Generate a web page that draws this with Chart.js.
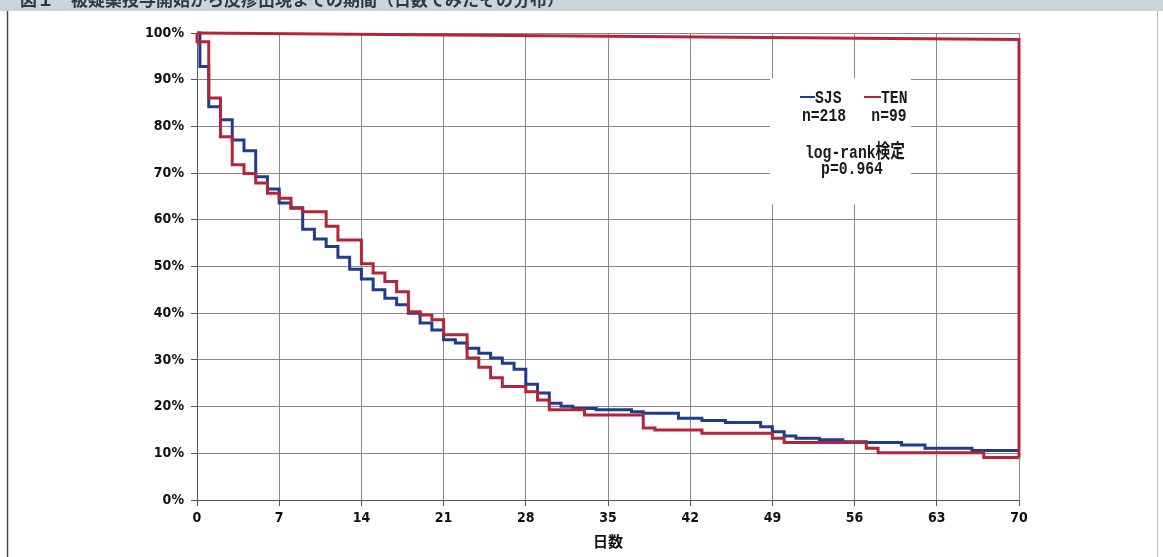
<!DOCTYPE html>
<html lang="ja">
<head>
<meta charset="utf-8">
<title>SJS / TEN 日数</title>
<script src="https://cdn.jsdelivr.net/npm/chart.js@4.4.1/dist/chart.umd.min.js"></script>
<style>
  html, body { margin: 0; padding: 0; background: #ffffff; }
  #wrap { width: 1163px; height: 557px; }
</style>
</head>
<body>
<div id="wrap"><canvas id="km" width="1163" height="557"></canvas></div>
<script>
// Kaplan–Meier style step curves (day, remaining %)
const sjsDays = [0, 0.25, 1, 2, 3, 4, 5, 6, 7, 8, 9, 10, 11, 12, 13, 14, 15, 16, 17, 18, 19, 20, 21, 22, 23, 24, 25, 26, 27, 28, 29, 30, 31, 32, 34, 37, 38, 41, 43, 45, 48, 49, 50, 51, 53, 55, 57, 60, 62, 66, 70];
const sjsPct  = [100, 92.8, 84.2, 81.4, 77.1, 74.8, 69.2, 66.6, 63.6, 62.6, 58.0, 55.9, 54.3, 52.0, 49.4, 47.3, 45.0, 43.2, 41.8, 40.0, 37.9, 36.4, 34.3, 33.6, 32.5, 31.4, 30.4, 29.3, 28.0, 24.8, 22.9, 20.7, 20.1, 19.6, 19.3, 18.9, 18.6, 17.5, 17.0, 16.6, 15.7, 14.6, 13.7, 13.2, 12.9, 12.5, 12.3, 11.8, 11.1, 10.6, 10.6];

const tenDays = [0, 0, 1, 2, 3, 4, 5, 6, 7, 8, 9, 11, 12, 14, 15, 16, 17, 18, 19, 20, 21, 23, 24, 25, 26, 28, 29, 30, 33, 38, 39, 43, 49, 50, 57, 58, 67, 70];
const tenPct  = [100, 98.1, 86.1, 77.8, 71.8, 69.9, 67.9, 65.7, 64.6, 62.5, 61.7, 58.6, 55.7, 50.6, 48.6, 46.8, 44.6, 40.3, 39.6, 38.6, 35.4, 30.4, 28.4, 26.2, 24.3, 23.2, 21.4, 19.3, 18.2, 15.4, 15.0, 14.3, 13.2, 12.3, 11.1, 10.1, 9.1, 9.1];

// red outline that closes the TEN series along the top and right edge
const tenEdgeDays = [0, 70, 70];
const tenEdgePct  = [100, 98.6, 9.1];

// axis ticks
const dayTicks = [0, 7, 14, 21, 28, 35, 42, 49, 56, 63, 70];
const pctTicks = [0, 10, 20, 30, 40, 50, 60, 70, 80, 90, 100];

// legend / annotation text
const groupNames = ['SJS', 'TEN'];
const groupN = ['n=218', 'n=99'];
const testLines = ['log-rank検定', 'p=0.964'];
const figureTitle = '図１　被疑薬投与開始から皮疹出現までの期間（日数でみたその分布）';

const BLUE = '#1f3c8e';
const RED = '#b5243a';
const GRID = '#8a8a8a';
const NARROW = '"Liberation Sans Narrow", "Arial Narrow", "DejaVu Sans Condensed", sans-serif';
const MONO = '"Liberation Mono", "DejaVu Sans Mono", "Noto Sans CJK JP", monospace';

const toPoints = (xs, ys) => xs.map((x, i) => ({ x, y: ys[i] }));

function condensedText(ctx, text, x, y, align, sx, sy) {
  ctx.save();
  ctx.translate(x, y);
  ctx.scale(sx, sy);
  ctx.textAlign = align;
  ctx.textBaseline = 'middle';
  ctx.fillText(text, 0, 0);
  ctx.restore();
}

const decor = {
  id: 'decor',
  beforeDraw(chart) {
    const ctx = chart.ctx;
    ctx.save();
    ctx.fillStyle = '#ffffff';
    ctx.fillRect(0, 0, chart.width, chart.height);
    // header band with the (top-clipped) figure caption
    ctx.fillStyle = '#c9d5da';
    ctx.fillRect(0, 0, chart.width, 11);
    ctx.beginPath();
    ctx.rect(0, 0, chart.width, 11);
    ctx.clip();
    ctx.font = 'bold 17px "Noto Sans CJK JP", sans-serif';
    ctx.textBaseline = 'alphabetic';
    ctx.textAlign = 'left';
    ctx.fillStyle = '#2b3a48';
    ctx.fillText(figureTitle, 20, 6);
    ctx.restore();
    // frame
    ctx.save();
    ctx.strokeStyle = '#4a4a4a';
    ctx.lineWidth = 1.5;
    ctx.beginPath();
    ctx.moveTo(7.5, 11);
    ctx.lineTo(7.5, chart.height);
    ctx.stroke();
    ctx.strokeStyle = '#b8b8b8';
    ctx.lineWidth = 1;
    ctx.beginPath();
    ctx.moveTo(1157.5, 11);
    ctx.lineTo(1157.5, chart.height);
    ctx.stroke();
    ctx.restore();
  },
  beforeDatasetsDraw(chart) {
    const ctx = chart.ctx;
    const xs = chart.scales.x, ys = chart.scales.y;
    // white legend panel placed over the grid
    const left = xs.getPixelForValue(48.8), right = xs.getPixelForValue(60.8);
    const top = ys.getPixelForValue(90.3), bottom = ys.getPixelForValue(63.3);
    ctx.save();
    ctx.fillStyle = '#ffffff';
    ctx.fillRect(left, top, right - left, bottom - top);

    ctx.lineWidth = 2;
    ctx.strokeStyle = BLUE;
    ctx.beginPath(); ctx.moveTo(800, 97); ctx.lineTo(815, 97); ctx.stroke();
    ctx.strokeStyle = RED;
    ctx.beginPath(); ctx.moveTo(864, 97); ctx.lineTo(881, 97); ctx.stroke();

    ctx.fillStyle = '#1a1a1a';
    ctx.font = 'bold 16px ' + MONO;
    condensedText(ctx, groupNames[0], 815, 98, 'left', 0.92, 1.2);
    condensedText(ctx, groupNames[1], 881, 98, 'left', 0.92, 1.2);
    condensedText(ctx, groupN[0], 824, 116, 'center', 0.92, 1.2);
    condensedText(ctx, groupN[1], 889, 116, 'center', 0.92, 1.2);
    condensedText(ctx, testLines[0], 855, 153, 'center', 0.92, 1.2);
    condensedText(ctx, testLines[1], 852, 169, 'center', 0.92, 1.2);
    ctx.restore();
  }
};

const tickFont = { family: NARROW, size: 14, weight: 'bold' };

new Chart(document.getElementById('km'), {
  type: 'line',
  data: {
    datasets: [
      {
        label: groupNames[1],
        data: toPoints(tenDays, tenPct),
        borderColor: RED,
        borderWidth: 3,
        stepped: 'before',
        pointRadius: 0,
        fill: false,
        clip: 6,
        order: 0
      },
      {
        label: groupNames[1] + ' edge',
        data: toPoints(tenEdgeDays, tenEdgePct),
        borderColor: RED,
        borderWidth: 3,
        stepped: false,
        tension: 0,
        pointRadius: 0,
        fill: false,
        clip: 6,
        order: 0
      },
      {
        label: groupNames[0],
        data: toPoints(sjsDays, sjsPct),
        borderColor: BLUE,
        borderWidth: 3,
        stepped: 'before',
        pointRadius: 0,
        fill: false,
        clip: 6,
        order: 1
      }
    ]
  },
  options: {
    responsive: false,
    animation: false,
    devicePixelRatio: 1,
    layout: { padding: { left: 0, right: 144, top: 33, bottom: 0 } },
    plugins: {
      legend: { display: false },
      title: { display: false },
      tooltip: { enabled: false }
    },
    scales: {
      x: {
        type: 'linear',
        min: 0,
        max: 70,
        afterBuildTicks(scale) { scale.ticks = dayTicks.map(v => ({ value: v })); },
        afterFit(scale) { scale.height = 57; },
        ticks: { font: tickFont, color: '#111111', padding: 4, maxRotation: 0, autoSkip: false },
        grid: { color: GRID, lineWidth: 1, tickLength: 6, tickColor: '#555555', drawTicks: true },
        border: { color: '#555555', width: 1 },
        title: {
          display: true,
          text: '日数',
          color: '#111111',
          font: { family: '"Noto Sans CJK JP", sans-serif', size: 15, weight: 'bold' },
          padding: { top: 0, bottom: 7 }
        }
      },
      y: {
        min: 0,
        max: 100,
        afterBuildTicks(scale) { scale.ticks = pctTicks.map(v => ({ value: v })); },
        afterFit(scale) { scale.width = 197; },
        ticks: { font: tickFont, color: '#111111', padding: 7, callback: v => v + '%' },
        grid: { color: GRID, lineWidth: 1, tickLength: 6, tickColor: '#555555', drawTicks: true },
        border: { color: '#555555', width: 1 }
      }
    }
  },
  plugins: [decor]
});
</script>
</body>
</html>
